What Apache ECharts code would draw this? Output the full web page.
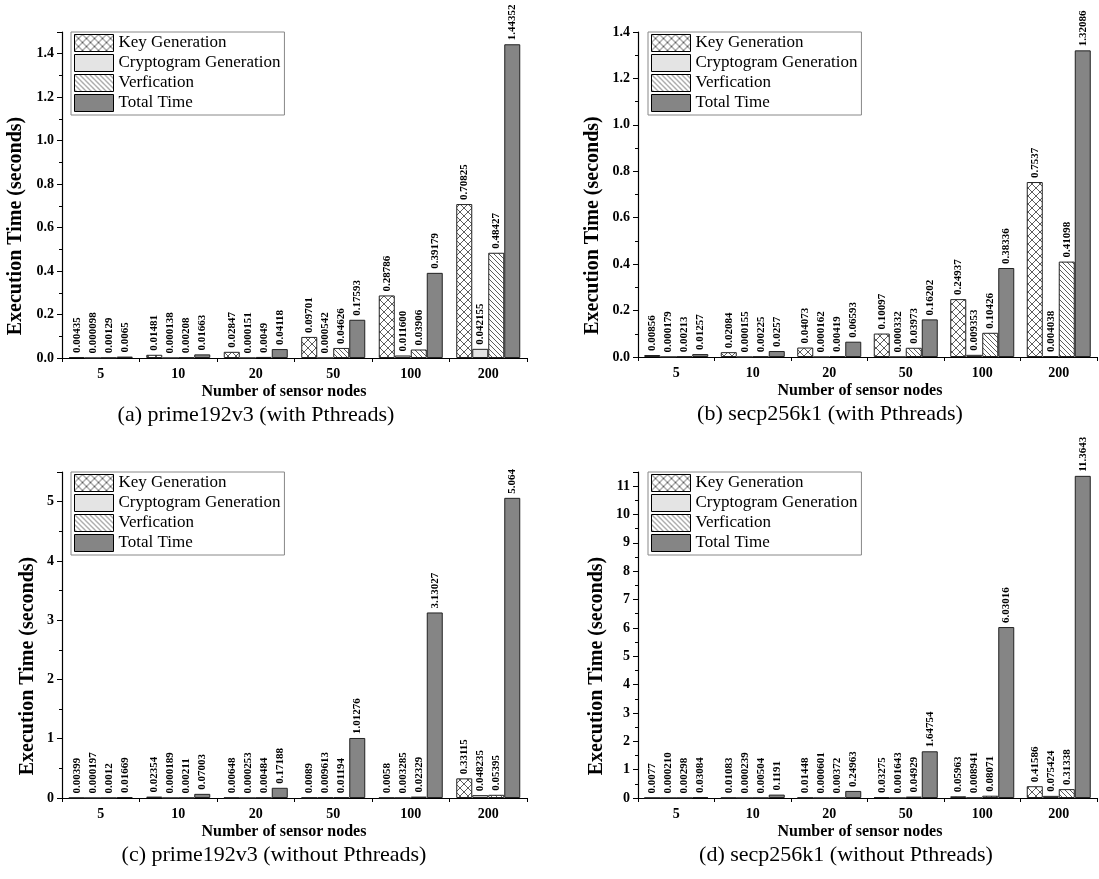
<!DOCTYPE html>
<html><head><meta charset="utf-8">
<script src="https://cdn.jsdelivr.net/npm/echarts@6/dist/echarts.min.js"></script>
<style>html,body{margin:0;padding:0;background:#fff}#c{width:1099px;height:879px}</style>
</head><body><div id="c"></div>
<script>
// ---------- DATA ----------
const categories = ['5', '10', '20', '50', '100', '200'];
const seriesNames = ['Key Generation', 'Cryptogram Generation', 'Verfication', 'Total Time'];

// (a) prime192v3 (with Pthreads)
const aKey    = ['0.00435', '0.01481', '0.02847', '0.09701', '0.28786', '0.70825'];
const aCrypto = ['0.000098', '0.000138', '0.000151', '0.000542', '0.011600', '0.042155'];
const aVerif  = ['0.00129', '0.00208', '0.0049', '0.04626', '0.03906', '0.48427'];
const aTotal  = ['0.0065', '0.01663', '0.04118', '0.17593', '0.39179', '1.44352'];

// (b) secp256k1 (with Pthreads)
const bKey    = ['0.00856', '0.02084', '0.04073', '0.10097', '0.24937', '0.7537'];
const bCrypto = ['0.000179', '0.000155', '0.000162', '0.000332', '0.009353', '0.004038'];
const bVerif  = ['0.00213', '0.00225', '0.00419', '0.03973', '0.10426', '0.41098'];
const bTotal  = ['0.01257', '0.0257', '0.06593', '0.16202', '0.38336', '1.32086'];

// (c) prime192v3 (without Pthreads)
const cKey    = ['0.00399', '0.02354', '0.00648', '0.0089', '0.0058', '0.33115'];
const cCrypto = ['0.000197', '0.000189', '0.000253', '0.009613', '0.003285', '0.048235'];
const cVerif  = ['0.0012', '0.00211', '0.00484', '0.01194', '0.02329', '0.05395'];
const cTotal  = ['0.01669', '0.07003', '0.17188', '1.01276', '3.13027', '5.064'];

// (d) secp256k1 (without Pthreads)
const dKey    = ['0.0077', '0.01083', '0.01448', '0.03275', '0.05963', '0.41586'];
const dCrypto = ['0.000210', '0.000239', '0.000601', '0.001643', '0.008941', '0.075424'];
const dVerif  = ['0.00298', '0.00504', '0.00372', '0.04929', '0.08071', '0.31338'];
const dTotal  = ['0.03084', '0.1191', '0.24963', '1.64754', '6.03016', '11.3643'];

const captions = ['(a) prime192v3 (with Pthreads)', '(b) secp256k1 (with Pthreads)',
                  '(c) prime192v3 (without Pthreads)', '(d) secp256k1 (without Pthreads)'];
const yMax = [1.5, 1.4, 5.5, 11.5];
const yInterval = [0.2, 0.2, 1, 1];
const yDecimals = [1, 1, 0, 0];
const yTitle = 'Execution Time (seconds)';
const xTitle = 'Number of sensor nodes';

const panelData = [
  [aKey, aCrypto, aVerif, aTotal],
  [bKey, bCrypto, bVerif, bTotal],
  [cKey, cCrypto, cVerif, cTotal],
  [dKey, dCrypto, dVerif, dTotal]
];

// ---------- LAYOUT / STYLE ----------
const layout = [
  { left: 62,  top: 32,  width: 465, height: 326, yTitleX: 16,  legendLeft: 71,  xTitleX: 284, capX: 256 },
  { left: 638, top: 32,  width: 459, height: 325, yTitleX: 593, legendLeft: 648, xTitleX: 860, capX: 830 },
  { left: 62,  top: 472, width: 465, height: 326, yTitleX: 28,  legendLeft: 71,  xTitleX: 284, capX: 274 },
  { left: 638, top: 472, width: 459, height: 326, yTitleX: 597, legendLeft: 648, xTitleX: 860, capX: 846 }
];
const SERIF = '"Liberation Serif", "Times New Roman", serif';

function makePattern(kind) {
  const cv = document.createElement('canvas');
  const s = kind === 'cross' ? 8 : 5;
  cv.width = s; cv.height = s;
  const g = cv.getContext('2d');
  g.fillStyle = '#fff'; g.fillRect(0, 0, s, s);
  g.strokeStyle = '#333'; g.lineWidth = 0.8;
  g.beginPath();
  for (const k of [-s, 0, s]) {
    g.moveTo(k, 0); g.lineTo(k + s, s);
    if (kind === 'cross') { g.moveTo(k + s, 0); g.lineTo(k, s); }
  }
  g.stroke();
  return { image: cv, repeat: 'repeat' };
}
const fills = [makePattern('cross'), '#e4e4e4', makePattern('diag'), '#858585'];

const grids = [], xAxes = [], yAxes = [], series = [], legends = [], graphics = [];
layout.forEach((L, p) => {
  grids.push({ left: L.left, top: L.top, width: L.width, height: L.height, containLabel: false });
  xAxes.push({
    type: 'category', gridIndex: p, data: categories,
    axisLine: { lineStyle: { color: '#000', width: 1.2 } },
    axisTick: { alignWithLabel: true, length: 4, lineStyle: { color: '#000' } },
    axisLabel: { color: '#000', fontFamily: SERIF, fontWeight: 'bold', fontSize: 14, margin: 9 },
    splitLine: { show: false }
  });
  xAxes.push({
    type: 'category', gridIndex: p, data: categories, position: 'bottom',
    axisLine: { show: false },
    axisTick: { show: true, alignWithLabel: false, length: 4, lineStyle: { color: '#000' } },
    axisLabel: { show: false }, splitLine: { show: false }
  });
  const maxOnTick = Math.abs(yMax[p] / yInterval[p] - Math.round(yMax[p] / yInterval[p])) < 1e-9;
  yAxes.push({
    type: 'value', gridIndex: p, min: 0, max: yMax[p], interval: yInterval[p],
    axisLine: { show: true, lineStyle: { color: '#000', width: 1.2 } },
    axisTick: { show: true, length: 5, lineStyle: { color: '#000' } },
    minorTick: { show: true, splitNumber: 2, length: 3, lineStyle: { color: '#000' } },
    splitLine: { show: false },
    axisLabel: {
      color: '#000', fontFamily: SERIF, fontWeight: 'bold', fontSize: 14, margin: 8,
      showMaxLabel: maxOnTick,
      formatter: v => v.toFixed(yDecimals[p])
    }
  });
  panelData[p].forEach((arr, s) => {
    series.push({
      type: 'bar', name: seriesNames[s], xAxisIndex: 2 * p, yAxisIndex: p,
      data: arr.map(Number), barWidth: 16, barGap: '0%',
      itemStyle: { color: fills[s], borderColor: '#222', borderWidth: 1 },
      label: {
        show: true, position: 'top', rotate: 90, distance: 4,
        align: 'left', verticalAlign: 'middle',
        fontFamily: SERIF, fontWeight: 'bold', fontSize: 11, color: '#000',
        formatter: prm => arr[prm.dataIndex]
      },
      emphasis: { disabled: true }, animation: false
    });
  });
  legends.push({
    data: seriesNames, orient: 'vertical', left: L.legendLeft, top: L.top,
    itemWidth: 39, itemHeight: 17, itemGap: 2, icon: 'rect',
    padding: [2, 4, 3, 3], borderColor: '#888', borderWidth: 1,
    itemStyle: { borderColor: '#000', borderWidth: 1 },
    textStyle: { fontFamily: SERIF, fontSize: 17, color: '#000', padding: [0, 0, 0, 0] },
    selectedMode: false
  });
  const bottom = L.top + L.height;
  graphics.push({
    type: 'text', x: L.yTitleX, y: L.top + L.height / 2 + 31, rotation: Math.PI / 2,
    style: { text: yTitle, font: 'bold 20px ' + SERIF, fill: '#000', align: 'center', verticalAlign: 'middle' }
  });
  graphics.push({
    type: 'text', x: L.xTitleX, y: bottom + 34,
    style: { text: xTitle, font: 'bold 16px ' + SERIF, fill: '#000', align: 'center', verticalAlign: 'middle' }
  });
  graphics.push({
    type: 'text', x: L.capX, y: bottom + 57,
    style: { text: captions[p], font: '22px ' + SERIF, fill: '#000', align: 'center', verticalAlign: 'middle' }
  });
});

const chart = echarts.init(document.getElementById('c'), null, { renderer: 'canvas' });
chart.setOption({
  backgroundColor: '#fff',
  animation: false,
  grid: grids, xAxis: xAxes, yAxis: yAxes, series: series, legend: legends,
  graphic: graphics
});
</script>
</body></html>
